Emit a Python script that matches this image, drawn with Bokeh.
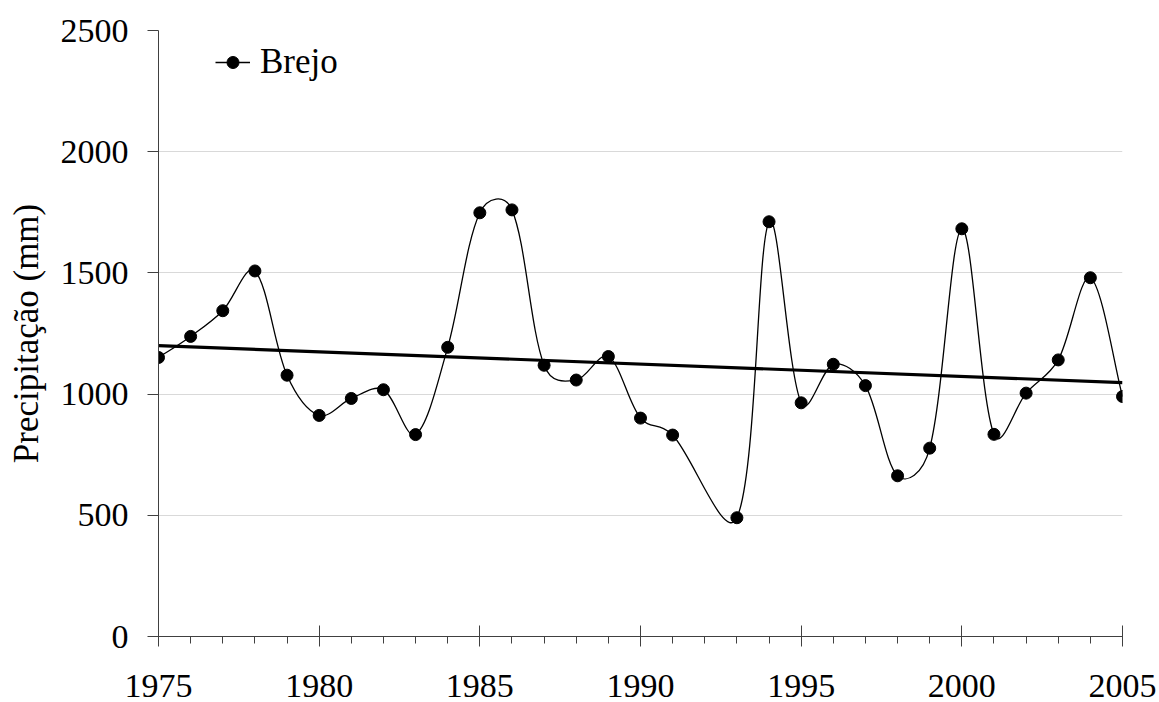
import numpy as np
from bokeh.plotting import figure
from bokeh.models import FixedTicker, Range1d, Legend, LegendItem
from bokeh.embed import file_html
from bokeh.resources import INLINE

# ---- data ----
years = [1975, 1976, 1977, 1978, 1979, 1980, 1981, 1982, 1983, 1984,
         1985, 1986, 1987, 1988, 1989, 1990, 1991, 1993, 1994, 1995,
         1996, 1997, 1998, 1999, 2000, 2001, 2002, 2003, 2004, 2005]
precip = [1151, 1238, 1344, 1508, 1078, 912, 982, 1018, 833, 1193,
          1748, 1760, 1119, 1058, 1155, 901, 831, 490, 1711, 964,
          1123, 1035, 663, 777, 1682, 834, 1004, 1141, 1480, 990]
series_name = "Brejo"
y_label = "Precipitação (mm)"
x_ticks = [1975, 1980, 1985, 1990, 1995, 2000, 2005]
x_minor = list(range(1975, 2006))
y_ticks = [0, 500, 1000, 1500, 2000, 2500]

FONT = "Liberation Serif"
W, H = 1159, 702
BL, BR, BT, BB = 158, 37, 30, 66
FW, FH = W - BL - BR, H - BT - BB
X0, X1, Y0, Y1 = 1975, 2005, 0, 2500

p = figure(width=W, height=H, output_backend="svg", toolbar_location=None,
           x_range=Range1d(X0, X1), y_range=Range1d(Y0, Y1),
           min_border_left=BL, min_border_right=BR,
           min_border_top=BT, min_border_bottom=BB)
p.outline_line_color = None
p.background_fill_color = "white"
p.border_fill_color = "white"

# ---- smooth curve (Excel-like bezier smoothing, computed in screen-proportional space) ----
sx = FW / (X1 - X0)
sy = FH / (Y1 - Y0)
P = np.array([[x * sx, y * sy] for x, y in zip(years, precip)], dtype=float)
n = len(P)
after = np.zeros_like(P)
before = np.zeros_like(P)
for i in range(n):
    pm = P[i - 1] if i > 0 else P[i]
    pp = P[i + 1] if i < n - 1 else P[i]
    T = pp - pm
    d1 = np.hypot(*(P[i] - pm))
    d2 = np.hypot(*(pp - P[i]))
    tot = d1 + d2 if d1 + d2 > 0 else 1.0
    fa = (0.5 * 0.5 + 0.5 * d2 / tot) / 3.0
    fb = (0.5 * 0.5 + 0.5 * d1 / tot) / 3.0
    after[i] = P[i] + T * fa
    before[i] = P[i] - T * fb
x0 = P[:-1, 0] / sx; y0 = P[:-1, 1] / sy
x1 = P[1:, 0] / sx;  y1 = P[1:, 1] / sy
cx0 = after[:-1, 0] / sx; cy0 = after[:-1, 1] / sy
cx1 = before[1:, 0] / sx; cy1 = before[1:, 1] / sy
p.bezier(x0=x0, y0=y0, x1=x1, y1=y1, cx0=cx0, cy0=cy0, cx1=cx1, cy1=cy1,
         line_color="black", line_width=1.3)

# ---- linear trend ----
a, b = np.polyfit(np.array(years, float), np.array(precip, float), 1)
p.line(x=[X0, X1], y=[a * X0 + b, a * X1 + b], line_color="black", line_width=3.2)

pts = p.scatter(x=years, y=precip, size=12, marker="circle",
                fill_color="black", line_color="black")
leg_line = p.line(x=[np.nan], y=[np.nan], line_color="black", line_width=1.3)

legend = Legend(items=[LegendItem(label=series_name, renderers=[leg_line, pts])],
                location=(57, FH - 14 - 38), border_line_color=None,
                background_fill_alpha=0, padding=0, margin=0, spacing=0,
                label_text_font=FONT, label_text_font_size="35px",
                label_text_color="black",
                glyph_width=35, glyph_height=30, label_height=38,
                label_standoff=10)
p.add_layout(legend)

# ---- axes ----
p.xgrid.visible = False
p.ygrid.ticker = FixedTicker(ticks=y_ticks)
p.ygrid.grid_line_color = "#d9d9d9"
p.ygrid.grid_line_width = 1

p.xaxis.ticker = FixedTicker(ticks=x_ticks, minor_ticks=x_minor)
p.yaxis.ticker = FixedTicker(ticks=y_ticks)
for ax in (p.xaxis[0], p.yaxis[0]):
    ax.axis_line_color = "#404040"
    ax.major_tick_line_color = "#404040"
    ax.minor_tick_line_color = "#404040"
    ax.major_label_text_font = FONT
    ax.major_label_text_font_size = "34px"
    ax.major_label_text_color = "black"
p.xaxis.major_tick_in = 11
p.xaxis.major_tick_out = 10
p.xaxis.minor_tick_in = 0
p.xaxis.minor_tick_out = 7
p.xaxis.major_label_standoff = 28
p.yaxis.major_tick_in = 0
p.yaxis.major_tick_out = 11
p.yaxis.minor_tick_line_color = None
p.yaxis.major_label_standoff = 19
p.yaxis.axis_label = y_label
p.yaxis.axis_label_text_font = FONT
p.yaxis.axis_label_text_font_size = "35px"
p.yaxis.axis_label_text_font_style = "normal"
p.yaxis.axis_label_text_color = "black"
p.yaxis.axis_label_standoff = 12

open("out.html", "w").write(file_html(p, INLINE))
